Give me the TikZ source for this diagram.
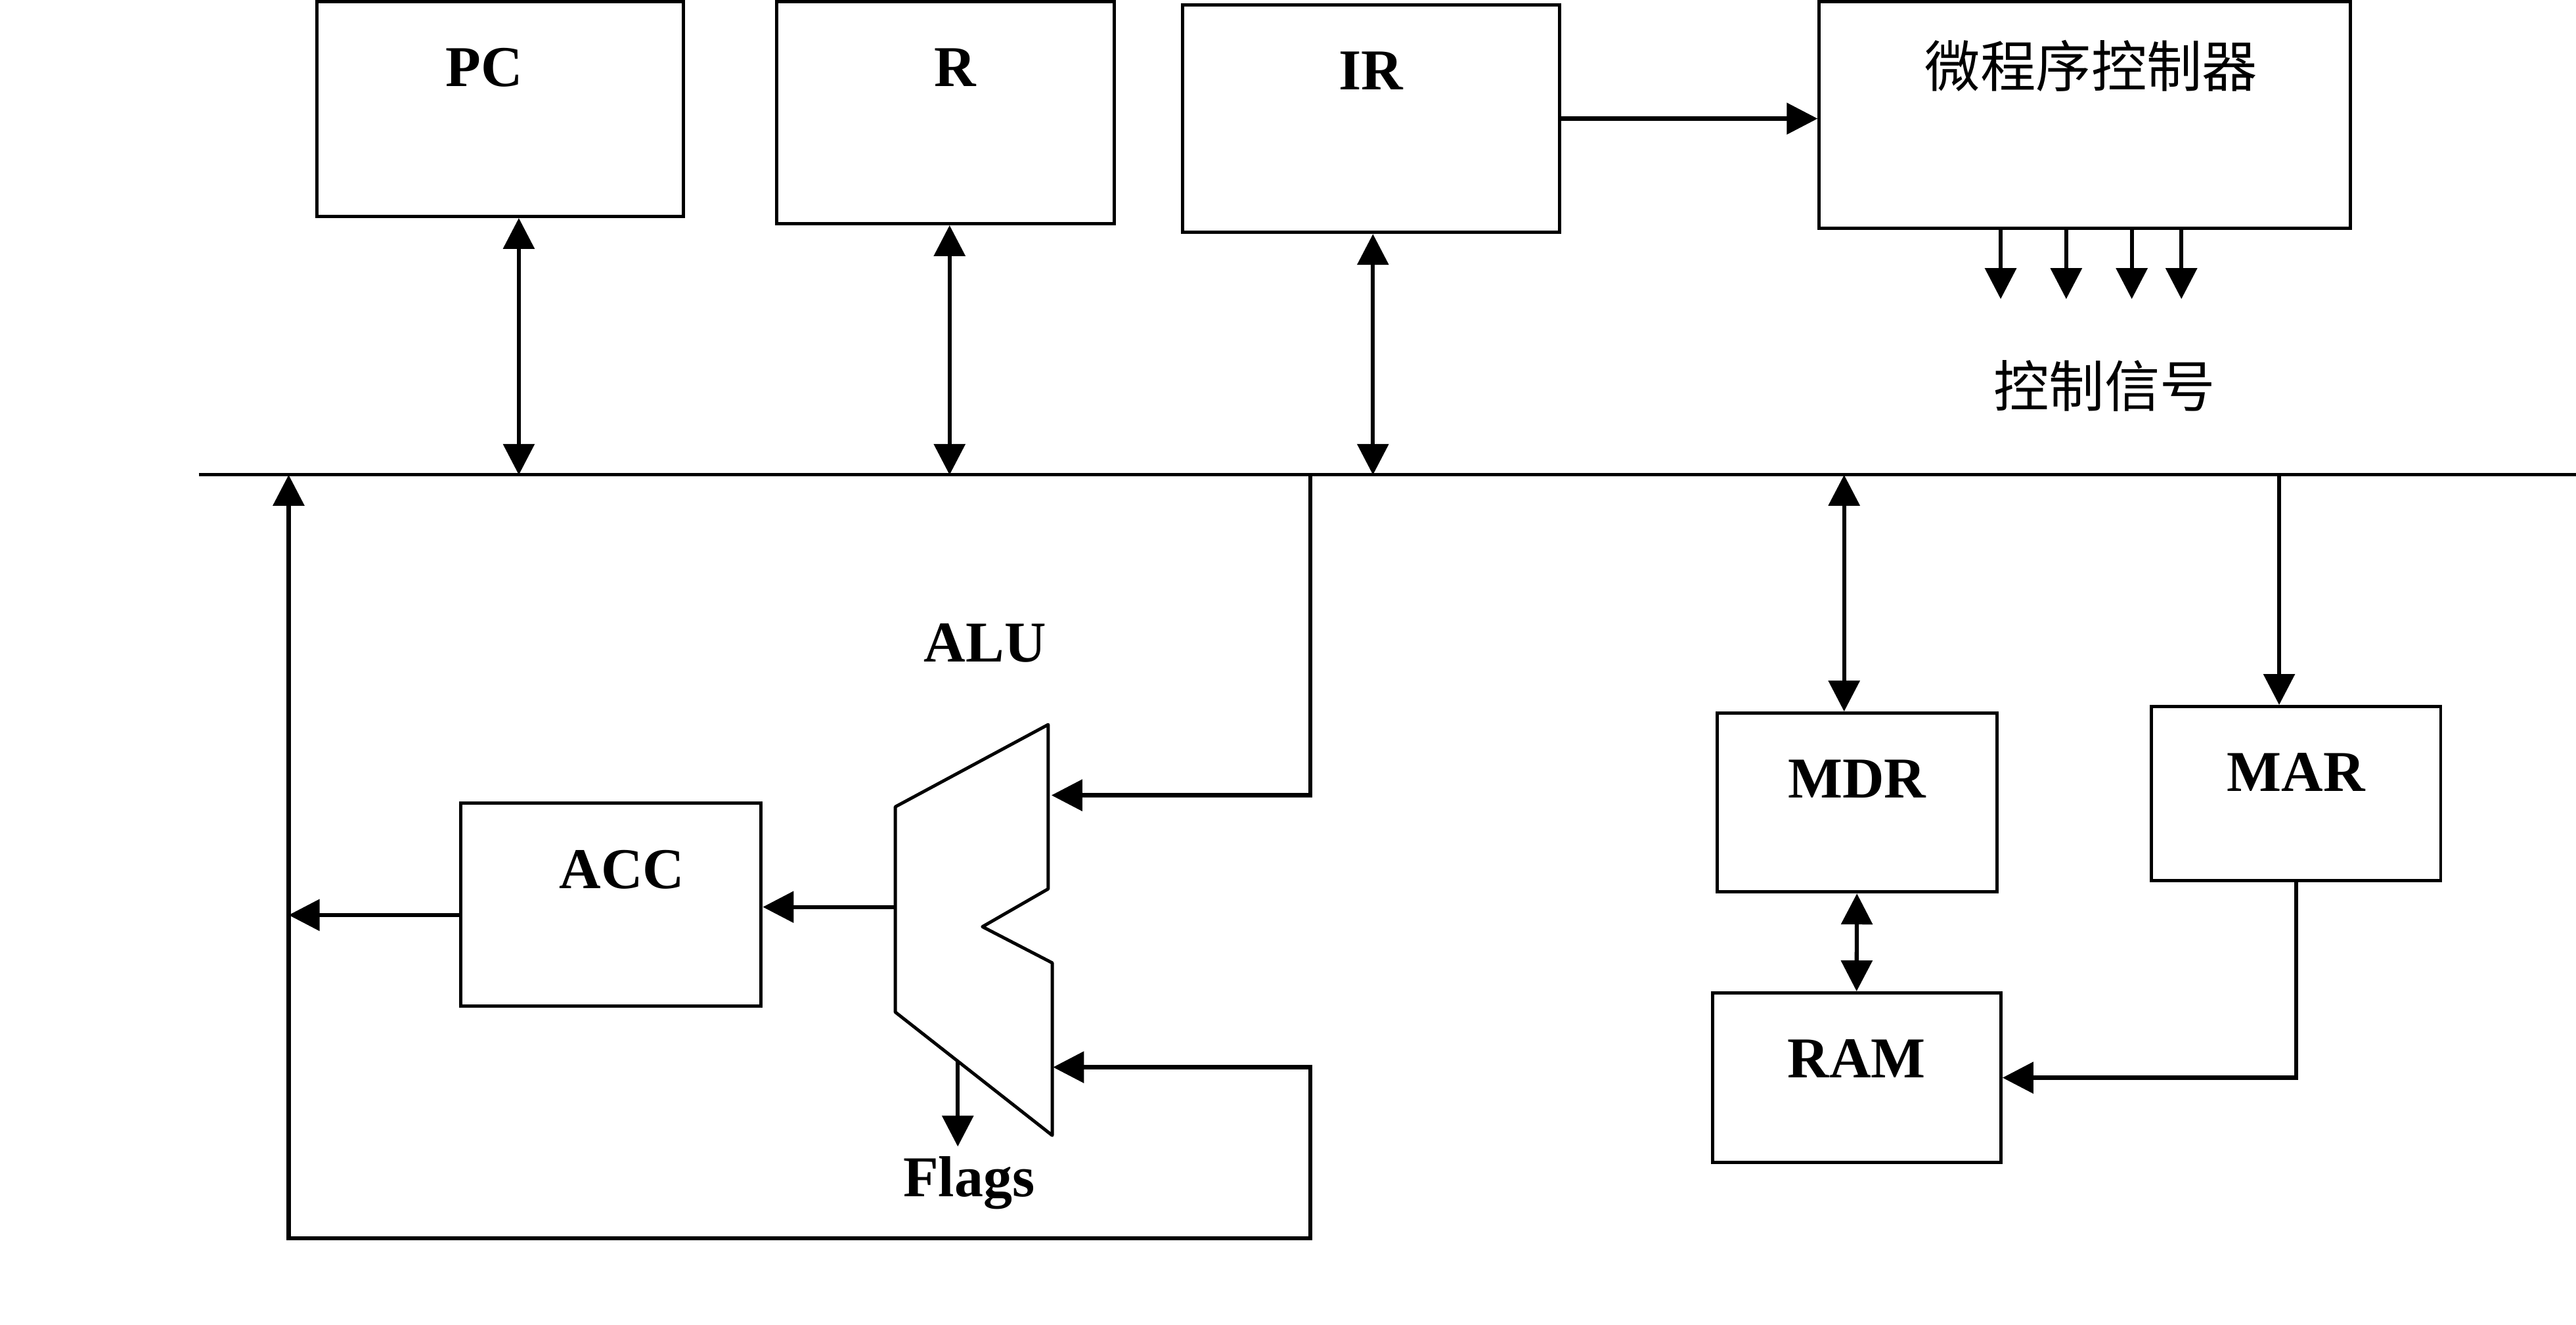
\documentclass[tikz,border=0pt]{standalone}
\usepackage{fontspec}
\setmainfont{Liberation Serif}
\newfontfamily\cjk{Noto Sans CJK SC}
\usepackage{tikz}
\usetikzlibrary{arrows.meta,positioning}

\begin{document}
\begin{tikzpicture}[
  x=0.025cm, y=-0.025cm,
  >={Triangle[length=4.7mm, width=4.7mm]},
  box/.style={draw, line width=1.4pt, inner sep=0pt},
  tag/.style={font=\fontsize{25}{30}\selectfont\bfseries, inner sep=0pt,
    text height=0.58cm, text depth=0pt},
  cjktag/.style={font=\fontsize{24}{29}\selectfont\cjk, inner sep=0pt},
  arr/.style={->, line width=1.8pt},
  biarr/.style={<->, line width=1.8pt},
  bus/.style={line width=1.4pt},
  edge/.style={line width=1.4pt, line join=round}
]
\useasboundingbox (0,0) rectangle (1568,806);
\node[box, minimum width=5.58cm, minimum height=3.27cm] (pc) at (304.4,66.3) {};
\node[box, minimum width=5.13cm, minimum height=3.38cm] (r) at (575.5,68.5) {};
\node[box, minimum width=5.73cm, minimum height=3.46cm] (ir) at (834.5,72.2) {};
\node[box, minimum width=8.08cm, minimum height=3.45cm] (ctrl) at (1269,70) {};
\node[box, minimum width=4.57cm, minimum height=3.08cm] (acc) at (371.9,550.5) {};
\node[box, minimum width=4.26cm, minimum height=2.72cm] (mdr) at (1130.3,488.4) {};
\node[box, minimum width=4.40cm, minimum height=2.65cm] (mar) at (1397.6,483) {};
\node[box, minimum width=4.39cm, minimum height=2.58cm] (ram) at (1130.1,655.9) {};
\node[tag, below=0.73cm of pc.north, xshift=-0.24cm] (pcl) {PC};
\node[tag, below=0.73cm of r.north, xshift=0.15cm] (rl) {R};
\node[tag, below=0.73cm of ir.north] (irl) {IR};
\node[cjktag, below=0.6cm of ctrl.north, xshift=0.1cm] (ctrll) {微程序控制器};
\node[tag, below=0.73cm of acc.north, xshift=0.17cm] (accl) {ACC};
\node[tag, below=0.73cm of mdr.north] (mdrl) {MDR};
\node[tag, below=0.73cm of mar.north] (marl) {MAR};
\node[tag, below=0.73cm of ram.north] (raml) {RAM};
\node[tag] (alul) at (599.6,391) {ALU};
\node[cjktag] (sig) at (1281,235) {控制信号};

\coordinate (busl) at (121,289);
\coordinate (busr) at (1568,289);
\coordinate (tpc) at (315.8,289);
\coordinate (tr) at (578,289);
\coordinate (tir) at (835.7,289);
\coordinate (tacc) at (175.7,289);
\coordinate (talu) at (797.7,289);
\coordinate (tmdr) at (1122.5,289);
\coordinate (tmar) at (1387.3,289);
\coordinate (aluin1) at (640,484);
\coordinate (aluin2) at (641,649.5);
\coordinate (aluout) at (545,552);
\coordinate (flg) at (583,645.8);
\coordinate (loop) at (797.7,753.6);
\coordinate (accout) at ([yshift=-0.16cm]acc.west);

\draw[edge] (638,441) -- (545,491) -- (545,616) -- (640.5,691) -- (640.5,586)
  -- (598,564) -- (638,541) -- cycle;
\draw[bus] (busl) -- (busr);
\draw[biarr] (tpc |- pc.south) -- (tpc);
\draw[biarr] (tr |- r.south) -- (tr);
\draw[biarr] (tir |- ir.south) -- (tir);
\draw[arr] (ir.east) -- (ir.east -| ctrl.west);
\foreach \x in {1217.8,1257.7,1297.6,1327.8}
  \draw[arr] (\x,0 |- ctrl.south) -- ++(0,42);
\draw[arr] (talu) |- (aluin1);
\draw[biarr] (tacc) |- (loop) |- (aluin2);
\draw[arr] (aluout) -- (aluout -| acc.east);
\draw[arr] (accout) -- (accout -| tacc);
\draw[arr] (flg) -- ++(0,52) coordinate (flgend);
\node[tag, below=0.17cm of flgend, xshift=0.17cm] (flags) {Flags};
\draw[biarr] (tmdr) -- (tmdr |- mdr.north);
\draw[arr] (tmar) -- (tmar |- mar.north);
\draw[biarr] (mdr.south) -- (ram.north);
\draw[arr] (mar.south) |- (ram.east);
\end{tikzpicture}
\end{document}
